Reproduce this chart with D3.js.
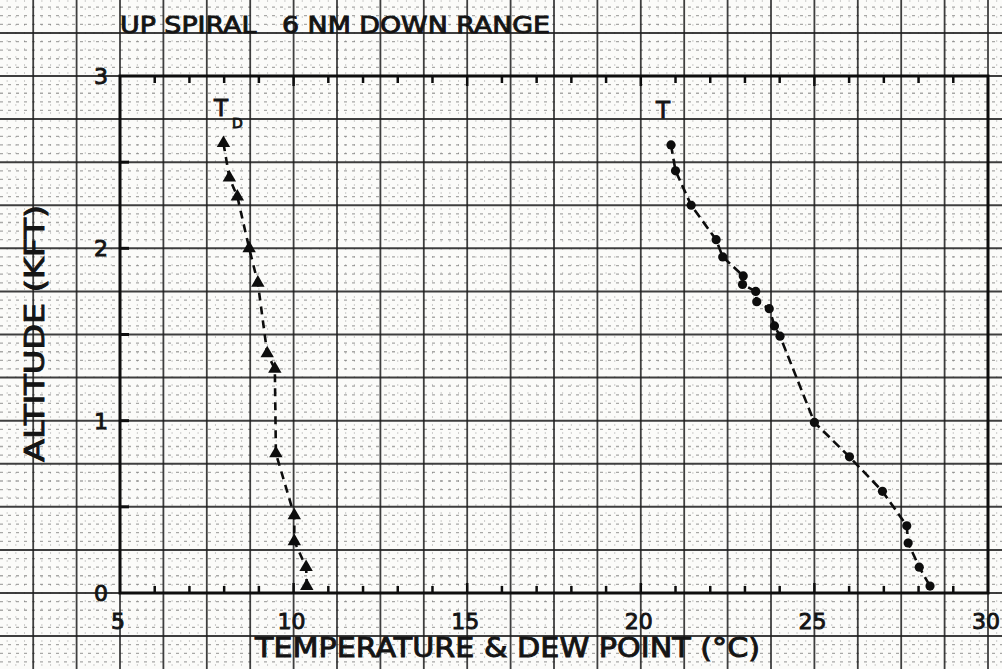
<!DOCTYPE html>
<html>
<head>
<meta charset="utf-8">
<script src="https://cdn.jsdelivr.net/npm/d3@7"></script>
<style>
  html, body { margin: 0; padding: 0; background: #fbfbf9; }
  svg { display: block; }
  text { font-family: "DejaVu Sans", sans-serif; fill: #141414; stroke: #141414; stroke-width: 0.9px; white-space: pre; }
</style>
</head>
<body>
<svg id="chart" width="1002" height="669"></svg>
<script>
// Dew point (T_D) sounding, kft vs °C
const dewTemp = [7.98, 8.15, 8.38, 8.72, 8.97, 9.24, 9.46, 9.49, 10.02, 10.02, 10.36, 10.38];
const dewAlt  = [2.61, 2.41, 2.30, 2.00, 1.80, 1.39, 1.30, 0.81, 0.45, 0.30, 0.15, 0.04];

// Temperature (T) sounding
const airTemp = [20.87, 21.00, 21.45, 22.17, 22.36, 22.95, 22.93, 23.31, 23.34, 23.70, 23.85, 24.01,
                 25.00, 26.01, 26.96, 27.66, 27.70, 28.02, 28.33];
const airAlt  = [2.60, 2.45, 2.25, 2.05, 1.95, 1.84, 1.79, 1.75, 1.69, 1.65, 1.55, 1.49,
                 0.99, 0.79, 0.59, 0.39, 0.29, 0.15, 0.04];

const xTickLabels = [5, 10, 15, 20, 25, 30];
const yTickLabels = [0, 1, 2, 3];

const titleText = "UP SPIRAL   6 NM DOWN RANGE";
const xTitle = "TEMPERATURE & DEW POINT (°C)";
const yTitle = "ALTITUDE (KFT)";

const svg = d3.select("#chart");
const W = 1002, H = 669;
const plot = { left: 120, right: 988, top: 76, bottom: 593 };

const x = d3.scaleLinear().domain([5, 30]).range([plot.left, plot.right]);
const y = d3.scaleLinear().domain([0, 3]).range([plot.bottom, plot.top]);

// ---- graph paper ----
const paper = svg.append("g");
const majorX = d3.range(5 - 1.25 * 4, 30 + 1.25 * 2 + 0.001, 1.25);
const majorY = d3.range(-0.25 * 4, 3 + 0.25 * 4 + 0.001, 0.25);
const offMajor = (v, step, base) => Math.abs(((v - base) / step) - Math.round((v - base) / step)) > 1e-6;
const minorX = d3.range(5 - 1.25 * 4, 30 + 1.25 * 2, 0.25).filter(v => offMajor(v, 1.25, 5));
const minorY = d3.range(-0.25 * 4, 3 + 0.25 * 4, 0.05).filter(v => offMajor(v, 0.25, 0));

paper.selectAll("line.minx").data(minorX).join("line")
  .attr("x1", d => x(d)).attr("x2", d => x(d)).attr("y1", 0).attr("y2", H)
  .attr("stroke", "#666").attr("stroke-width", 1).attr("stroke-dasharray", "2,6")
  .attr("opacity", 0.3);
paper.selectAll("line.miny").data(minorY).join("line")
  .attr("y1", d => y(d)).attr("y2", d => y(d)).attr("x1", 0).attr("x2", W)
  .attr("stroke", "#444").attr("stroke-width", 1.3).attr("stroke-dasharray", "3,5")
  .attr("opacity", 0.45);
paper.selectAll("line.majx").data(majorX).join("line")
  .attr("x1", d => x(d)).attr("x2", d => x(d)).attr("y1", 0).attr("y2", H)
  .attr("stroke", "#1e1e1e").attr("stroke-width", 1.8).attr("opacity", 0.85);
paper.selectAll("line.majy").data(majorY).join("line")
  .attr("y1", d => y(d)).attr("y2", d => y(d)).attr("x1", 0).attr("x2", W)
  .attr("stroke", "#1e1e1e").attr("stroke-width", 2).attr("opacity", 0.85);

// ---- axes frame ----
svg.append("rect")
  .attr("x", plot.left).attr("y", plot.top)
  .attr("width", plot.right - plot.left).attr("height", plot.bottom - plot.top)
  .attr("fill", "none").attr("stroke", "#0d0d0d").attr("stroke-width", 3);

// inward ticks every 1 °C on bottom and top edges
const xTicks = d3.range(6, 30, 1);
const tickLen = d => (d % 5 === 0 ? 10 : 7);
svg.append("g").selectAll("line").data(xTicks).join("line")
  .attr("x1", d => x(d)).attr("x2", d => x(d))
  .attr("y1", plot.bottom).attr("y2", d => plot.bottom - tickLen(d))
  .attr("stroke", "#0d0d0d").attr("stroke-width", 2.5);
svg.append("g").selectAll("line").data(xTicks).join("line")
  .attr("x1", d => x(d)).attr("x2", d => x(d))
  .attr("y1", plot.top).attr("y2", d => plot.top + tickLen(d))
  .attr("stroke", "#0d0d0d").attr("stroke-width", 2.5);
// inward ticks every 0.5 kft on the left edge
svg.append("g").selectAll("line").data([0.5, 1, 1.5, 2, 2.5]).join("line")
  .attr("x1", plot.left).attr("x2", plot.left + 9)
  .attr("y1", d => y(d)).attr("y2", d => y(d))
  .attr("stroke", "#0d0d0d").attr("stroke-width", 3);

// tick labels
svg.append("g").selectAll("text").data(xTickLabels).join("text")
  .attr("x", d => x(d) - 2).attr("y", plot.bottom + 36)
  .attr("text-anchor", "middle").attr("font-size", 22)
  .text(d => d);
svg.append("g").selectAll("text").data(yTickLabels).join("text")
  .attr("x", plot.left - 12).attr("y", d => y(d) + 8)
  .attr("text-anchor", "end").attr("font-size", 22)
  .text(d => d);

// titles
svg.append("text").attr("x", 120).attr("y", 33)
  .attr("font-size", 23).attr("textLength", 430).attr("lengthAdjust", "spacingAndGlyphs")
  .text(titleText);
svg.append("text").attr("x", 255).attr("y", 657)
  .attr("font-size", 26).attr("textLength", 505).attr("lengthAdjust", "spacingAndGlyphs")
  .text(xTitle);
svg.append("text")
  .attr("transform", "translate(44,462) rotate(-90)")
  .attr("font-size", 26).attr("textLength", 257).attr("lengthAdjust", "spacingAndGlyphs")
  .text(yTitle);

// ---- soundings ----
const dewPts = dewTemp.map((t, i) => [t, dewAlt[i]]);
const airPts = airTemp.map((t, i) => [t, airAlt[i]]);
const line = d3.line().x(d => x(d[0])).y(d => y(d[1]));

svg.append("path").datum(dewPts).attr("d", line)
  .attr("fill", "none").attr("stroke", "#0d0d0d").attr("stroke-width", 2.6)
  .attr("stroke-dasharray", "8,6");
svg.append("path").datum(airPts).attr("d", line)
  .attr("fill", "none").attr("stroke", "#0d0d0d").attr("stroke-width", 2.6)
  .attr("stroke-dasharray", "9,5");

svg.append("g").selectAll("path").data(dewPts).join("path")
  .attr("transform", d => `translate(${x(d[0])},${y(d[1])})`)
  .attr("d", d3.symbol().type(d3.symbolTriangle).size(78))
  .attr("fill", "#0d0d0d");
svg.append("g").selectAll("circle").data(airPts).join("circle")
  .attr("cx", d => x(d[0])).attr("cy", d => y(d[1])).attr("r", 4.6)
  .attr("fill", "#0d0d0d");

// series labels
svg.append("text").attr("x", 214).attr("y", 116).attr("font-size", 23).text("T");
svg.append("text").attr("x", 232).attr("y", 128).attr("font-size", 14).text("D");
svg.append("text").attr("x", 656).attr("y", 118).attr("font-size", 23).text("T");
</script>
</body>
</html>
